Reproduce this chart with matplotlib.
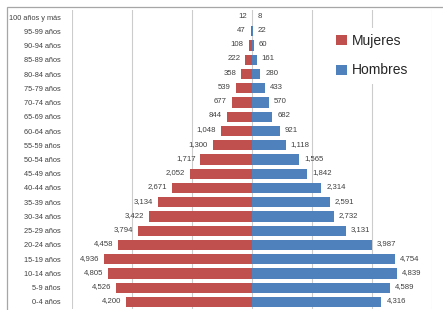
import matplotlib
matplotlib.use("Agg")
import matplotlib.pyplot as plt
from matplotlib.patches import Rectangle, Patch

# Data, ordered from youngest (bottom) to oldest (top)
age_groups = ["0-4 años", "5-9 años", "10-14 años", "15-19 años", "20-24 años",
              "25-29 años", "30-34 años", "35-39 años", "40-44 años", "45-49 años",
              "50-54 años", "55-59 años", "60-64 años", "65-69 años", "70-74 años",
              "75-79 años", "80-84 años", "85-89 años", "90-94 años", "95-99 años",
              "100 años y más"]
mujeres = [4200, 4526, 4805, 4936, 4458, 3794, 3422, 3134, 2671, 2052,
           1717, 1300, 1048, 844, 677, 539, 358, 222, 108, 47, 12]
hombres = [4316, 4589, 4839, 4754, 3987, 3131, 2732, 2591, 2314, 1842,
           1565, 1118, 921, 682, 570, 433, 280, 161, 60, 22, 8]

RED = "#C0504D"
BLUE = "#4F81BD"
TXT = "#404040"
FONT = "Liberation Sans"

W, H = 443, 310
fig = plt.figure(figsize=(W / 100, H / 100), dpi=100)
fig.patch.set_facecolor("white")

# outer chart frame
fig.patches.append(Rectangle((7 / W, -0.1), 1.2, 1 - 7 / H + 0.1, transform=fig.transFigure,
                             fill=False, edgecolor="#a6a6a6", linewidth=0.9, zorder=0))

ax = fig.add_axes([72 / W, 0.9 / H, 360 / W, (310 - 0.9 - 9.9) / H])
y = list(range(len(age_groups)))
ax.barh(y, [-v for v in mujeres], height=0.72, color=RED, zorder=3, label="Mujeres")
ax.barh(y, hombres, height=0.72, color=BLUE, zorder=3, label="Hombres")

ax.set_xlim(-6000, 6000)
ax.set_ylim(-0.5, len(age_groups) - 0.5)
ax.set_xticks(range(-6000, 6001, 2000))
ax.xaxis.grid(True, color="#cccccc", linewidth=0.8, zorder=0)
ax.tick_params(axis="x", bottom=False, labelbottom=False)
ax.set_yticks(y)
ax.set_yticklabels(age_groups, fontsize=5.3, color=TXT, family=FONT)
ax.tick_params(axis="y", length=0, pad=8)
for s in ax.spines.values():
    s.set_visible(False)

for i, v in enumerate(mujeres):
    ax.annotate(f"{v:,}", (-v, i), xytext=(-5, 1), textcoords="offset pixels",
                ha="right", va="center", fontsize=5.6, color=TXT, family=FONT, zorder=4)
for i, v in enumerate(hombres):
    ax.annotate(f"{v:,}", (v, i), xytext=(5, 1), textcoords="offset pixels",
                ha="left", va="center", fontsize=5.6, color=TXT, family=FONT, zorder=4)

handles = [Patch(facecolor=RED, edgecolor="none", label="Mujeres"),
           Patch(facecolor=BLUE, edgecolor="none", label="Hombres")]
leg = ax.legend(handles=handles, loc="upper left", bbox_to_anchor=(323 / W, 1 - 21 / H),
                bbox_transform=fig.transFigure, frameon=True, fancybox=False,
                facecolor="white", edgecolor="none", framealpha=1,
                prop={"family": FONT, "size": 10}, handlelength=0.75, handleheight=0.75,
                handletextpad=0.35, labelspacing=1.1, borderpad=0.45)
for t in leg.get_texts():
    t.set_color("#262626")
leg.set_zorder(5)

fig.savefig("out.png", dpi=100)
